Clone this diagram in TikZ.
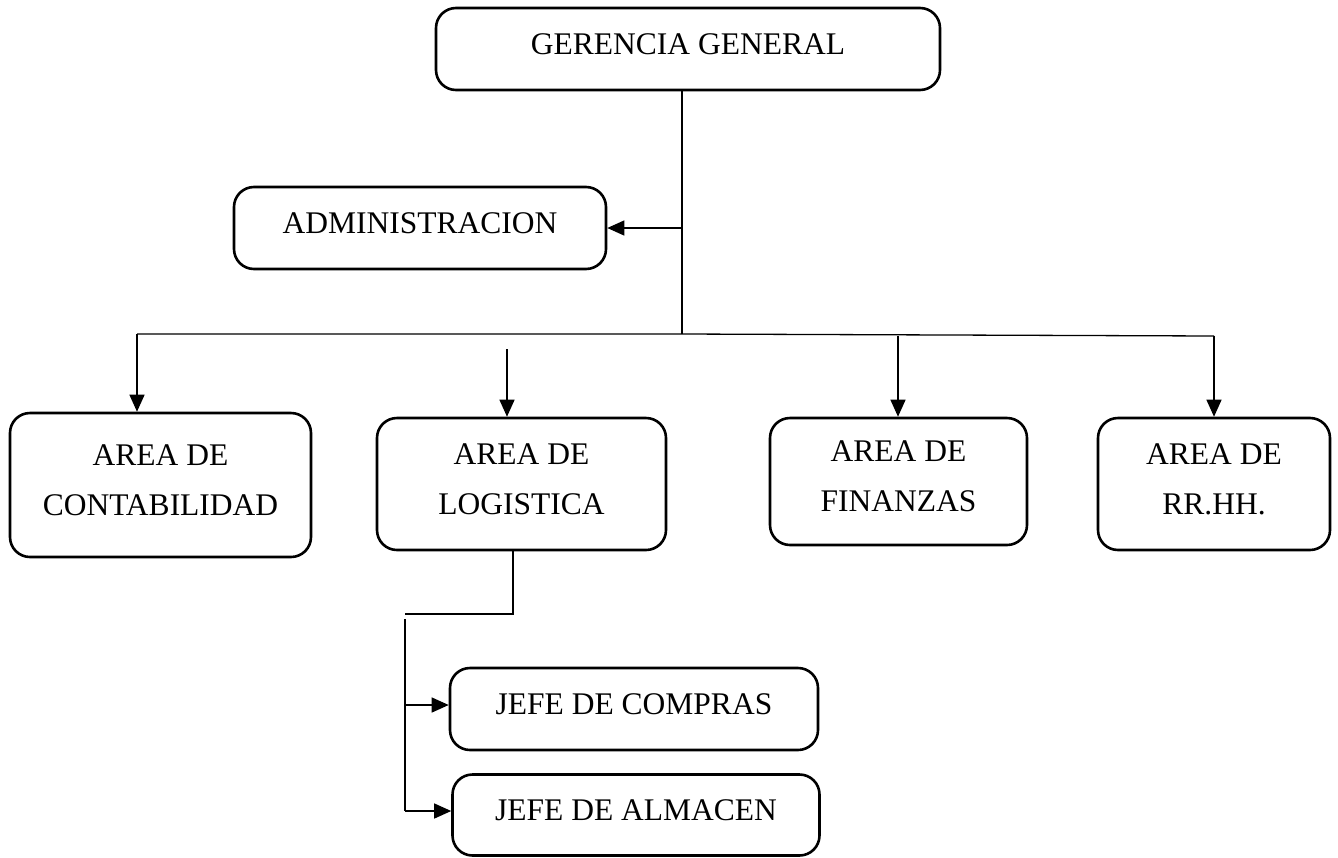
\documentclass[tikz,border=0pt]{standalone}
\usepackage{fontspec}
\setmainfont{Liberation Serif}
\usetikzlibrary{arrows.meta}
\begin{document}
\begin{tikzpicture}[x=1pt,y=-1pt,
  box/.style={draw, line width=2.6pt, rounded corners=20pt, inner sep=0pt,
    align=center, font=\fontsize{31.5}{50}\selectfont, text depth=10pt},
  conn/.style={line width=1.3pt},
  arr/.style={conn, -{Triangle[length=17pt,width=15pt]}}]
\useasboundingbox (0,0) rectangle (1338,857);
\node[box, minimum width=504pt, minimum height=82pt] (gg) at (688,49) {GERENCIA GENERAL};
\node[box, minimum width=372pt, minimum height=82pt] (adm) at (420,228) {ADMINISTRACION};
\node[box, minimum width=301pt, minimum height=144pt] (cont) at (160.5,485) {AREA DE\\CONTABILIDAD};
\node[box, minimum width=289pt, minimum height=132pt] (log) at (521.5,484) {AREA DE\\LOGISTICA};
\node[box, minimum width=257pt, minimum height=127pt] (fin) at (898.5,481.5) {AREA DE\\FINANZAS};
\node[box, minimum width=232pt, minimum height=132pt] (rrhh) at (1214,484) {AREA DE\\RR.HH.};
\node[box, minimum width=368pt, minimum height=82pt] (comp) at (634,709) {JEFE DE COMPRAS};
\node[box, minimum width=367pt, minimum height=81pt] (alm) at (636,815) {JEFE DE ALMACEN};
% coordinates
\coordinate (j) at (682,334);
\coordinate (hl) at (137,334);
\coordinate (hr) at (1214,336);
\coordinate (lg) at (507,349);
\coordinate (fn) at (898,336);
\coordinate (ld) at (513,614);
\coordinate (lk) at (405,614);
\coordinate (vt) at (405,619);
\coordinate (b1) at (405,705);
\coordinate (b2) at (405,811);
% connectors
\draw[conn] (gg.south -| j) -- (j);
\draw[arr] (adm.east -| j) -- (adm.east);
\draw[conn] (hl) -- (j) -- (hr);
\draw[arr] (hl) -- (hl |- cont.north);
\draw[arr] (lg) -- (lg |- log.north);
\draw[arr] (fn) -- (fn |- fin.north);
\draw[arr] (hr) -- (hr |- rrhh.north);
\draw[conn] (ld |- log.south) -- (ld) -- (lk);
\draw[conn] (vt) -- (b2);
\draw[arr] (b1) -- (b1 -| comp.west);
\draw[arr] (b2) -- (b2 -| alm.west);
\end{tikzpicture}
\end{document}
